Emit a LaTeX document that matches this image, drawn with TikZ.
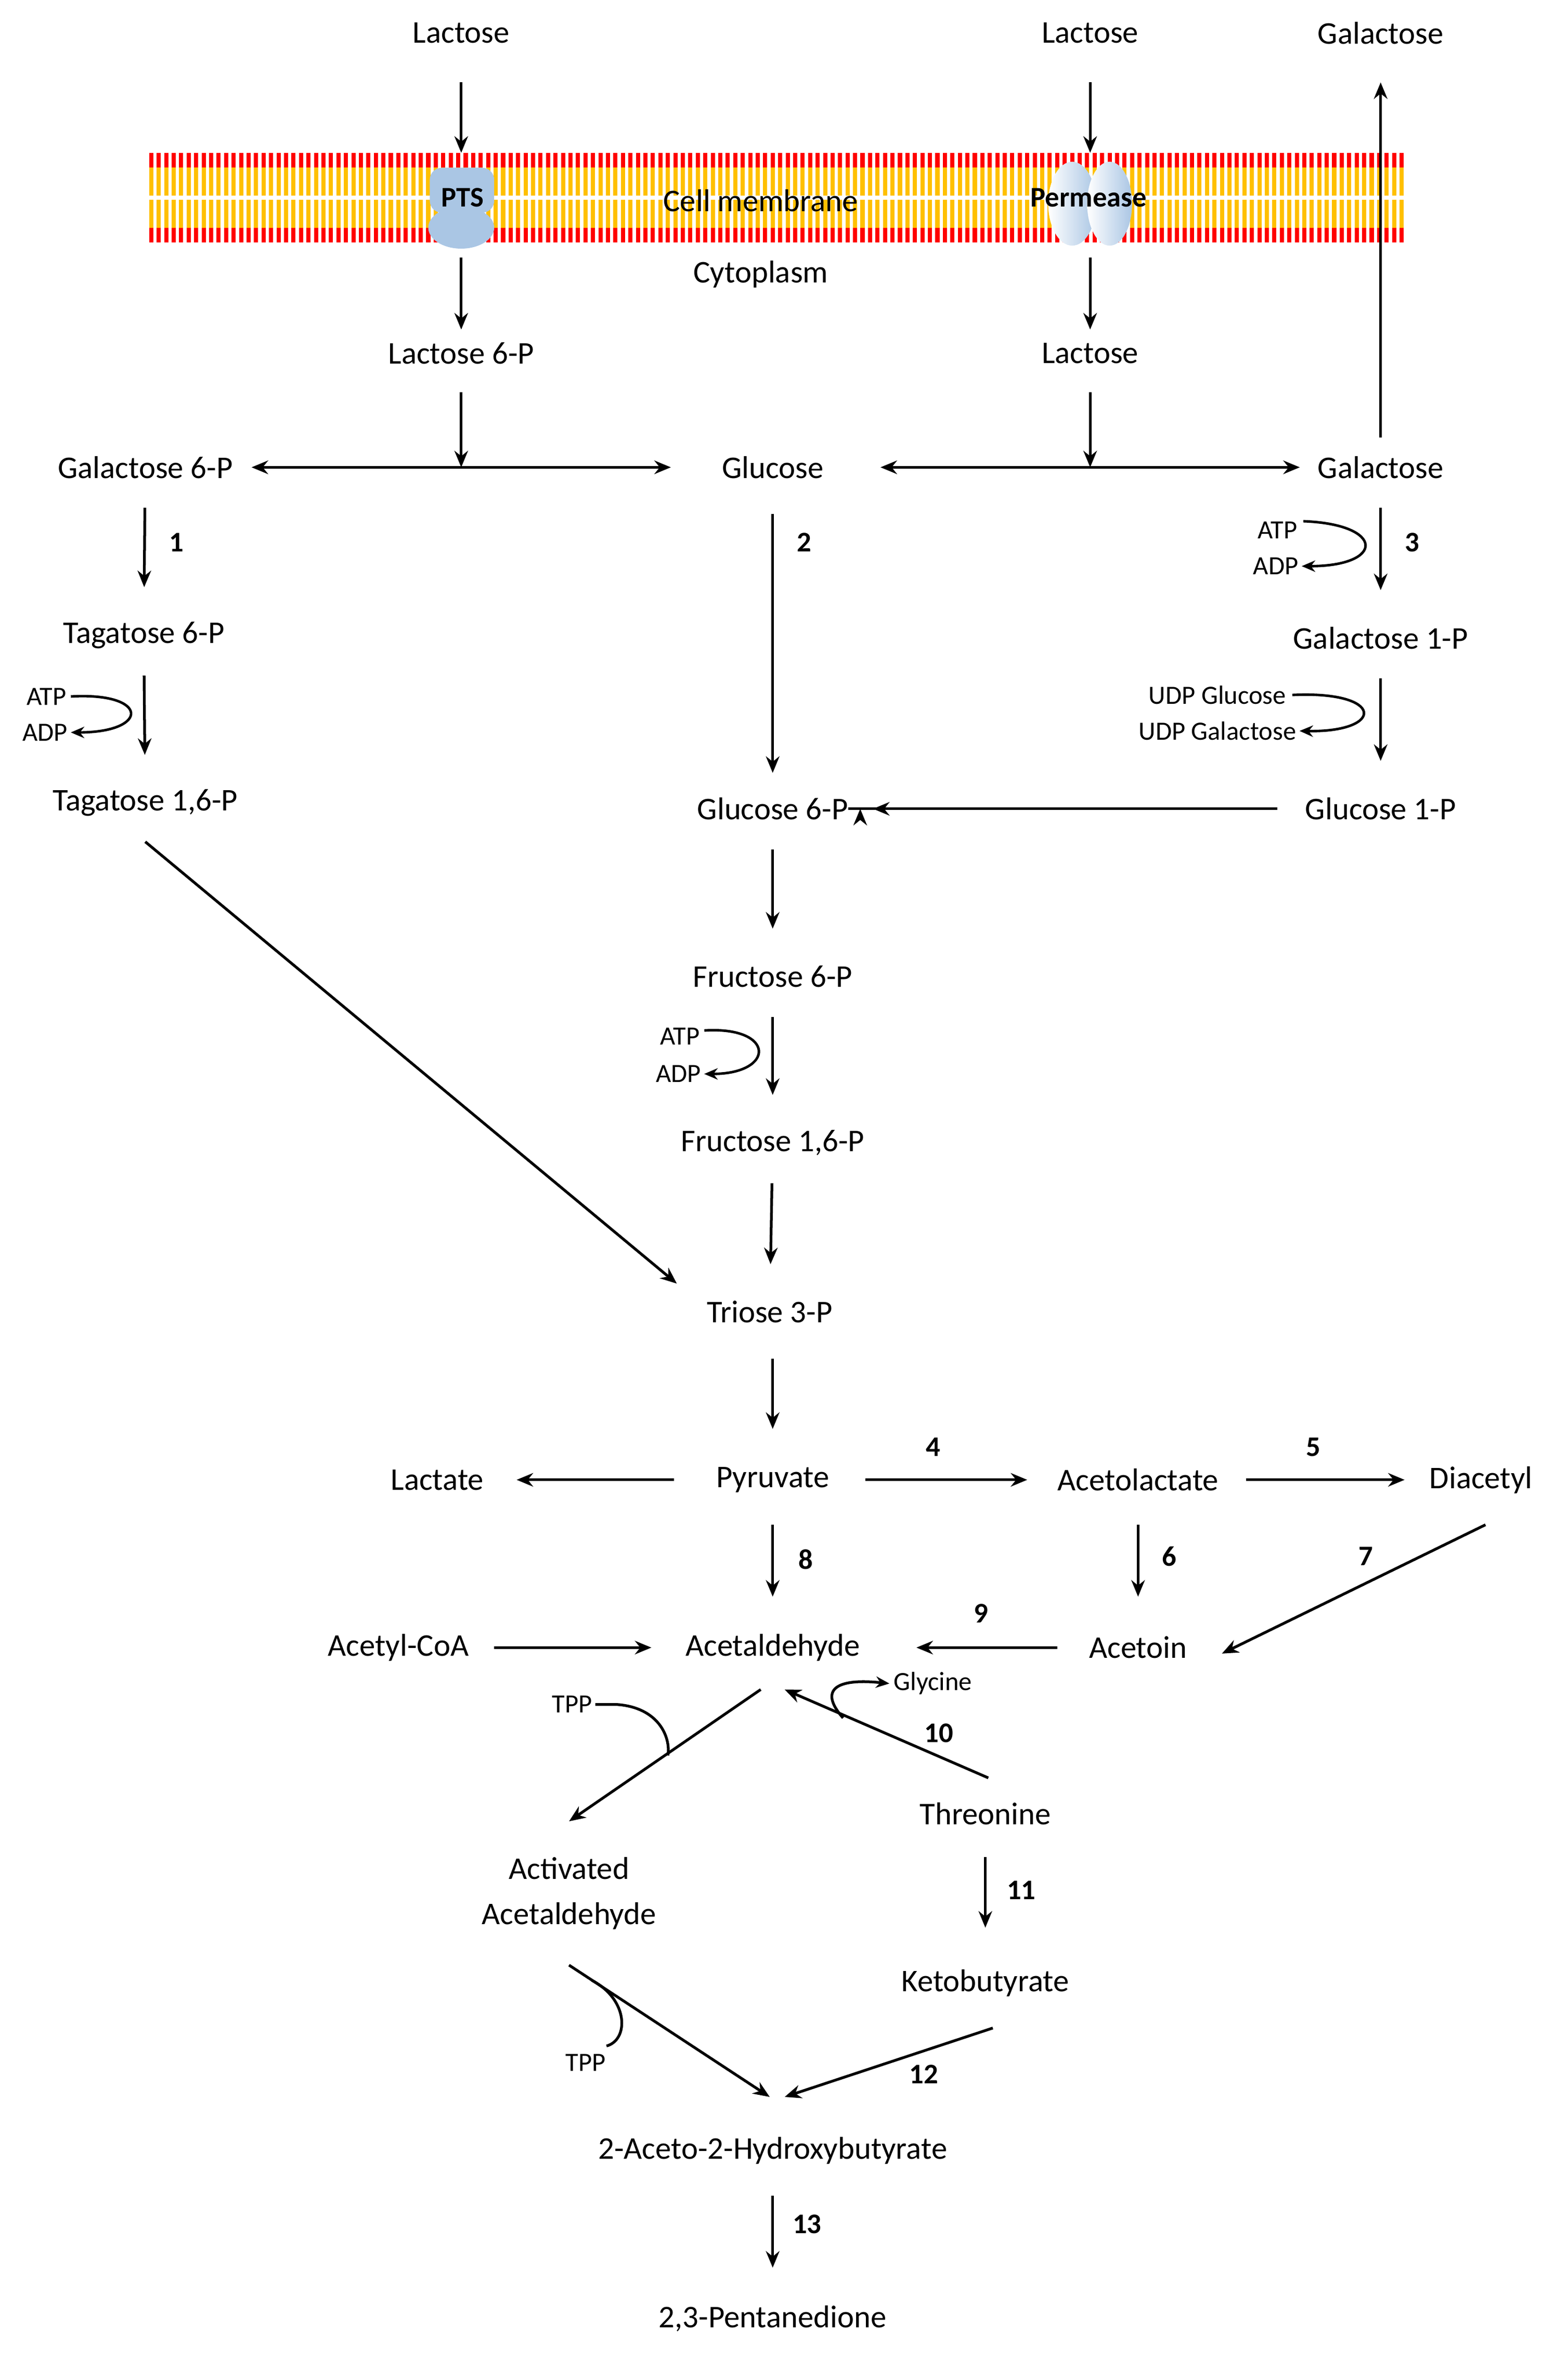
\documentclass[tikz,border=0pt]{standalone}
\usepackage{fontspec}
\setmainfont{Carlito}
\usetikzlibrary{arrows.meta}
\definecolor{memred}{RGB}{255,0,0}
\definecolor{memyel}{RGB}{255,192,0}
\definecolor{protblue}{RGB}{170,198,228}
\begin{document}
\begin{tikzpicture}[x=0.05cm,y=-0.05cm,
  every node/.style={font=\fontsize{30}{36}\selectfont, inner sep=0pt},
  sm/.style={font=\fontsize{25}{30}\selectfont},
  num/.style={font=\fontsize{27}{32}\selectfont\bfseries},
  arr/.style={line width=2.6pt,-{Stealth[length=0.55cm,width=0.45cm]}},
  darr/.style={line width=2.6pt,{Stealth[length=0.55cm,width=0.45cm]}-{Stealth[length=0.55cm,width=0.45cm]}},
  ln/.style={line width=2.6pt},
  curl/.style={line width=2.4pt,-{Stealth[length=0.45cm,width=0.38cm]}},
  vv/.style={shorten <=1.35cm, shorten >=1.6cm}]
\useasboundingbox (0,0) rectangle (1047,1583);
% membrane
\foreach \x in {101,106,...,936}{
  \draw[memred,line width=0.14cm] (\x,102) -- (\x,112);
  \draw[memyel,line width=0.14cm] (\x,112) -- (\x,130.5);
  \draw[memyel,line width=0.14cm] (\x,133.5) -- (\x,152);
  \draw[memred,line width=0.14cm] (\x,152) -- (\x,162);
}
% PTS protein
\fill[protblue, rounded corners=0.4cm] (287,112) rectangle (330,142);
\fill[protblue] (308,152) ellipse [x radius=22, y radius=14];
\node[font=\fontsize{27}{32}\selectfont\bfseries] (pts) at (309,132) {PTS};
% Permease
\shade[left color=white,right color=protblue] (716,136) ellipse [x radius=16, y radius=28];
\shade[left color=white,right color=protblue] (741,136) ellipse [x radius=15, y radius=28];
\node[font=\fontsize{27}{32}\selectfont\bfseries] (perm) at (727,132) {Permease};
\node (cm) at (508,134) {Cell membrane};
\node (cyto) at (508,183) {Cytoplasm};
% nodes
\node (lac1) at (308,22) {Lactose};
\node (lac2) at (728,22) {Lactose};
\node (galout) at (922,22) {Galactose};
\node (lac6p) at (308,236) {Lactose 6-P};
\node (lacin) at (728,236) {Lactose};
\node (gal6p) at (97,312) {Galactose 6-P};
\node (glc) at (516,312) {Glucose};
\node (gal) at (922,312) {Galactose};
\node (tag6p) at (96,424) {Tagatose 6-P};
\node (tag16p) at (97,536) {Tagatose 1,6-P};
\node (gal1p) at (922,426) {Galactose 1-P};
\node (glc1p) at (922,540) {Glucose 1-P};
\node (glc6p) at (516,540) {Glucose 6-P};
\node (fru6p) at (516,652) {Fructose 6-P};
\node (fru16p) at (516,763) {Fructose 1,6-P};
\node (tri) at (514,876) {Triose 3-P};
\node (pyr) at (516,988) {Pyruvate};
\node (lact) at (292,988) {Lactate};
\node (acl) at (760,988) {Acetolactate};
\node (dia) at (989,988) {Diacetyl};
\node (acn) at (760,1100) {Acetoin};
\node (ald) at (516,1100) {Acetaldehyde};
\node (acoa) at (266,1100) {Acetyl-CoA};
\node[align=center] (act) at (380,1264) {Activated\\[0.25cm]Acetaldehyde};
\node (thr) at (658,1211) {Threonine};
\node (keto) at (658,1324) {Ketobutyrate};
\node (ahb) at (516,1436) {2-Aceto-2-Hydroxybutyrate};
\node (pent) at (516,1548) {2,3-Pentanedione};
% cofactor labels
\node[sm] (atp1) at (31,465) {ATP};
\node[sm] (adp1) at (30,489) {ADP};
\node[sm] (atp3) at (853,354) {ATP};
\node[sm] (adp3) at (852,378) {ADP};
\node[sm] (udpg) at (813,464) {UDP Glucose};
\node[sm] (udpgal) at (813,488) {UDP Galactose};
\node[sm] (atp2) at (454,692) {ATP};
\node[sm] (adp2) at (453,717) {ADP};
\node[sm] (tpp1) at (382,1138) {TPP};
\node[sm] (gly) at (623,1124) {Glycine};
\node[sm] (tpp2) at (391,1377) {TPP};
% numbers
\node[num] at (118,362) {1};
\node[num] at (537,362) {2};
\node[num] at (943,362) {3};
\node[num] at (623,966) {4};
\node[num] at (877,966) {5};
\node[num] at (781,1039) {6};
\node[num] at (912,1039) {7};
\node[num] at (538,1041) {8};
\node[num] at (655,1077) {9};
\node[num] at (627,1157) {10};
\node[num] at (682,1262) {11};
\node[num] at (617,1385) {12};
\node[num] at (539,1485) {13};
% coordinates
\coordinate (j1) at (308,312);
\coordinate (j2) at (728,312);
% connectors
\draw[arr] (lac1.center) ++(0,33) -- (308,102);
\draw[arr] (lac2.center) ++(0,33) -- (728,102);
\draw[arr] (308,172) -- (308,220);
\draw[arr] (728,172) -- (728,220);
\draw[arr] (lac6p.center) ++(0,26) -- (j1);
\draw[arr] (lacin.center) ++(0,26) -- (j2);
\draw[darr] (168,312) -- (448,312);
\draw[darr] (588,312) -- (868,312);
\draw[arr] (gal.center) ++(0,-20) -- (922,55);
\draw[arr,vv] (gal6p.center) -- (tag6p.center);
\draw[arr,vv] (tag6p.center) -- (tag16p.center);
\draw[arr] (tag16p.center) ++(0,26) -- (452,857);
\draw[arr] (glc.center) ++(0,31) -- (516,516);
\draw[arr,vv] (gal.center) -- (gal1p.center);
\draw[arr,vv] (gal1p.center) -- (glc1p.center);
\draw[arr] (853,540) -- (glc6p.east) ++(8,0);
\draw[arr] (853,540) -- (583,540);
\draw[arr,vv] (glc6p.center) -- (fru6p.center);
\draw[arr,vv] (fru6p.center) -- (fru16p.center);
\draw[arr,vv] (fru16p.center) -- (tri.center);
\draw[arr] (516,907) -- (516,954);
\draw[arr] (450,988) -- (345,988);
\draw[arr] (578,988) -- (686,988);
\draw[arr] (832,988) -- (938,988);
\draw[arr] (pyr.center) ++(0,30) -- (516,1066);
\draw[arr] (acl.center) ++(0,30) -- (760,1066);
\draw[arr] (992,1018) -- (816,1104);
\draw[arr] (706,1100) -- (612,1100);
\draw[arr] (330,1100) -- (435,1100);
\draw[arr] (508,1128) -- (380,1216);
\draw[arr] (660,1187) -- (524,1128);
\draw[arr] (thr.center) ++(0,29) -- (658,1287);
\draw[arr] (663,1354) -- (524,1400);
\draw[arr] (380,1312) -- (514,1400);
\draw[arr] (ahb.center) ++(0,30) -- (516,1514);
% cofactor curls
\draw[curl] (atp1.east) ++(3,0) .. controls (100,462) and (100,489) .. ([xshift=3]adp1.east);
\draw[curl] (atp3.east) ++(4,-6) .. controls (925,350) and (925,378) .. ([xshift=3]adp3.east);
\draw[curl] (udpg.east) ++(4,0) .. controls (925,461) and (925,489) .. ([xshift=3]udpgal.east);
\draw[curl] (atp2.east) ++(3,-4) .. controls (518,685) and (518,717) .. ([xshift=3]adp2.east);
\draw[ln] (tpp1.east) ++(2,0) -- (412,1138) .. controls (440,1140) and (448,1160) .. (446,1172);
\draw[ln,-{Stealth[length=0.45cm,width=0.38cm]}] (563,1147) .. controls (548,1130) and (555,1120) .. ([xshift=-4]gly.west);
\draw[ln] (395,1322) .. controls (420,1335) and (420,1362) .. (405,1366);
\end{tikzpicture}
\end{document}
